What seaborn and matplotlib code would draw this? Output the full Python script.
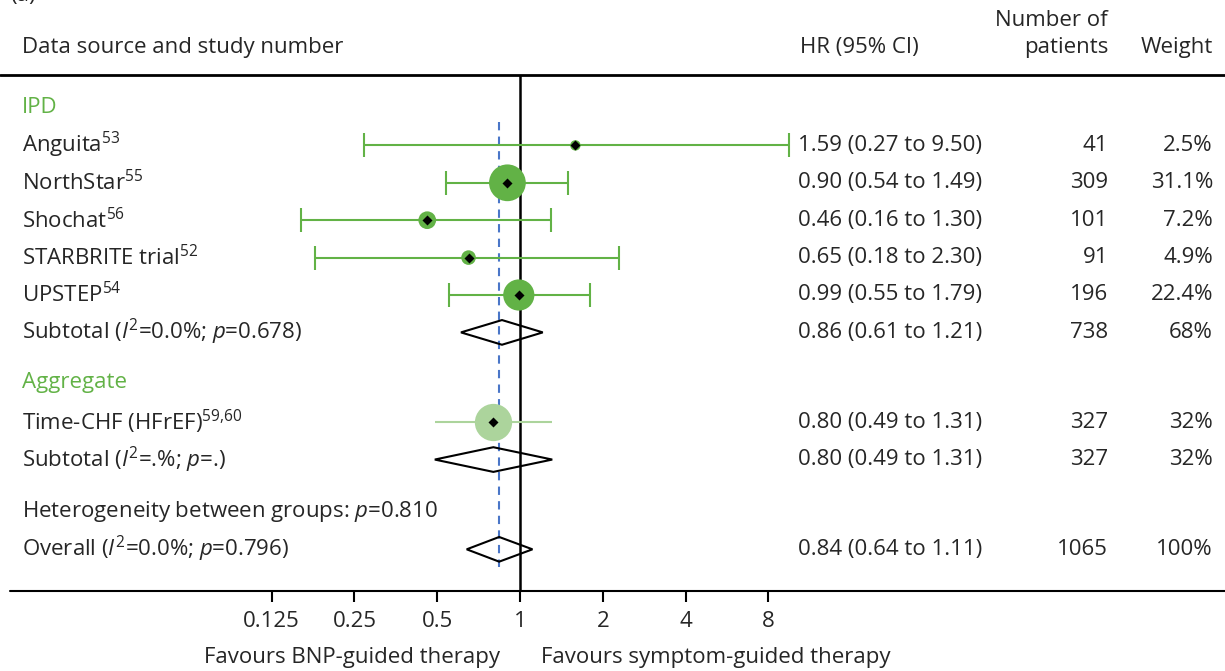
import numpy as np
import pandas as pd
import matplotlib
matplotlib.use("Agg")
import matplotlib.pyplot as plt
import seaborn as sns
from matplotlib.patches import Polygon

# --- data -----------------------------------------------------------------
ipd_names = ["Anguita", "NorthStar", "Shochat", "STARBRITE trial", "UPSTEP"]
ipd_refs = ["53", "55", "56", "52", "54"]
ipd_hr = [1.59, 0.90, 0.46, 0.65, 0.99]
ipd_lo = [0.27, 0.54, 0.16, 0.18, 0.55]
ipd_hi = [9.50, 1.49, 1.30, 2.30, 1.79]
ipd_n = [41, 309, 101, 91, 196]
ipd_weight = [2.5, 31.1, 7.2, 4.9, 22.4]

agg_names = ["Time-CHF (HFrEF)"]
agg_refs = ["59{,}60"]
agg_hr = [0.80]
agg_lo = [0.49]
agg_hi = [1.31]
agg_n = [327]
agg_weight = [32.0]

# pooled: IPD subtotal, aggregate subtotal, overall
pool_labels = [r"Subtotal ($I^2$=0.0%; $p$=0.678)",
               r"Subtotal ($I^2$=.%; $p$=.)",
               r"Overall ($I^2$=0.0%; $p$=0.796)"]
pool_hr = [0.86, 0.80, 0.84]
pool_lo = [0.61, 0.49, 0.64]
pool_hi = [1.21, 1.31, 1.11]
pool_n = [738, 327, 1065]
pool_weight = ["68%", "32%", "100%"]
het_label = r"Heterogeneity between groups: $p$=0.810"

ticks = [0.125, 0.25, 0.5, 1, 2, 4, 8]
tick_labels = ["0.125", "0.25", "0.5", "1", "2", "4", "8"]

# --- style ----------------------------------------------------------------
sns.set_theme(style="white")
plt.rcParams["font.family"] = ["Open Sans", "DejaVu Sans"]
plt.rcParams["mathtext.fontset"] = "custom"
plt.rcParams["mathtext.rm"] = "Open Sans"
plt.rcParams["mathtext.it"] = "Open Sans:italic"
plt.rcParams["mathtext.bf"] = "Open Sans:bold"

green = "#62b246"
light_green = "#acd49c"
blue = "#4a76c8"
fs = 16

W, H = 1225, 671
fig = plt.figure(figsize=(W / 100, H / 100), dpi=100)
ax = fig.add_axes([0, 0, 1, 1])
ax.set_xscale("log", base=2)
px2 = 82.8          # pixels per doubling
x1 = 520            # pixel of HR = 1
rowh = 37.4         # pixels per row
y0 = 108            # pixel of first row
ax.set_xlim(2 ** (-x1 / px2), 2 ** ((W - x1) / px2))
ax.set_ylim((H - y0) / rowh, -y0 / rowh)
ax.axis("off")
tx = ax.get_yaxis_transform()   # x in axes fraction, y in data


def fx(p):
    return p / W


# row positions
r_ipd_head = 0
r_ipd = np.arange(1, 6)
r_ipd_sub = 6
r_agg_head = 7.35
r_agg = np.array([8.4])
r_agg_sub = 9.4
r_het = 10.8
r_all = 11.8
r_pool = [r_ipd_sub, r_agg_sub, r_all]

# reference lines
ax.plot([0, 1], [-0.88, -0.88], transform=tx, color="black", lw=2)
ax.plot([0.008, 1], [12.91, 12.91], transform=tx, color="black", lw=1.5)
ax.vlines(1, -0.88, 12.91, color="black", lw=1.8, zorder=2)
ax.vlines(pool_hr[2], 0.37, 12.27, color=blue, lw=1.5, ls=(0, (4, 3)), zorder=2)

# CIs
ipd_hr_a = np.array(ipd_hr)
ax.errorbar(ipd_hr, r_ipd,
            xerr=[ipd_hr_a - np.array(ipd_lo), np.array(ipd_hi) - ipd_hr_a],
            fmt="none", ecolor=green, elinewidth=1.5, capsize=8.5, capthick=1.5,
            zorder=3)
ax.hlines(r_agg, agg_lo, agg_hi, color=light_green, lw=1.5, zorder=3)

# weighted circles (area proportional to weight)
smax = 700
df_ipd = pd.DataFrame({"hr": ipd_hr, "row": r_ipd, "w": ipd_weight})
df_agg = pd.DataFrame({"hr": agg_hr, "row": r_agg, "w": agg_weight})
sns.scatterplot(data=df_ipd, x="hr", y="row", size="w", sizes=(0, smax),
                size_norm=(0, 31.1), color=green, linewidth=0, legend=False,
                ax=ax, zorder=4)
sns.scatterplot(data=df_agg, x="hr", y="row", size="w",
                sizes=(0, smax * 32 / 31.1), size_norm=(0, 32),
                color=light_green, linewidth=0, legend=False, ax=ax, zorder=4)
sns.scatterplot(x=ipd_hr + agg_hr, y=list(r_ipd) + list(r_agg), marker="D",
                s=26, color="black", linewidth=0, ax=ax, zorder=5)

# pooled diamonds
dh = 0.33
for est, lo, hi, r in zip(pool_hr, pool_lo, pool_hi, r_pool):
    ax.add_patch(Polygon([(lo, r), (est, r - dh), (hi, r), (est, r + dh)],
                         closed=True, fill=False, edgecolor="black", lw=1.5,
                         zorder=5))

# header
ax.text(fx(10), -2.74, "(a)", transform=tx, fontsize=fs, va="bottom")
ax.text(fx(22), -1.63, "Data source and study number", transform=tx,
        fontsize=fs, va="center")
ax.text(fx(800), -1.63, "HR (95% CI)", transform=tx, fontsize=fs, va="center")
ax.text(fx(1108), -2.35, "Number of", transform=tx, fontsize=fs, va="center",
        ha="right")
ax.text(fx(1108), -1.63, "patients", transform=tx, fontsize=fs, va="center",
        ha="right")
ax.text(fx(1213), -1.63, "Weight", transform=tx, fontsize=fs, va="center",
        ha="right")

# group headers
ax.text(fx(22), r_ipd_head, "IPD", transform=tx, fontsize=fs, va="center",
        color=green)
ax.text(fx(22), r_agg_head, "Aggregate", transform=tx, fontsize=fs,
        va="center", color=green)


def row_text(r, label, hr, lo, hi, n, w):
    ax.text(fx(22), r, label, transform=tx, fontsize=fs, va="center")
    ax.text(fx(798), r, f"{hr:.2f} ({lo:.2f} to {hi:.2f})", transform=tx,
            fontsize=fs, va="center")
    ax.text(fx(1108), r, str(n), transform=tx, fontsize=fs, va="center",
            ha="right")
    ax.text(fx(1213), r, w, transform=tx, fontsize=fs, va="center", ha="right")


for i, r in enumerate(r_ipd):
    row_text(r, f"{ipd_names[i]}$^{{{ipd_refs[i]}}}$", ipd_hr[i], ipd_lo[i],
             ipd_hi[i], ipd_n[i], f"{ipd_weight[i]:.1f}%")
for i, r in enumerate(r_agg):
    row_text(r, f"{agg_names[i]}$^{{{agg_refs[i]}}}$", agg_hr[i], agg_lo[i],
             agg_hi[i], agg_n[i], f"{agg_weight[i]:.0f}%")
for i, r in enumerate(r_pool):
    row_text(r, pool_labels[i], pool_hr[i], pool_lo[i], pool_hi[i], pool_n[i],
             pool_weight[i])
ax.text(fx(22), r_het, het_label, transform=tx, fontsize=fs, va="center")

# x axis (log2)
ax.vlines(ticks, 12.91, 13.2, color="black", lw=1.5)
for t, lab in zip(ticks, tick_labels):
    ax.text(t, 13.74, lab, fontsize=fs, ha="center", va="center")
ax.text(fx(500), 14.68, "Favours BNP-guided therapy", transform=tx,
        fontsize=fs, ha="right", va="center")
ax.text(fx(541), 14.68, "Favours symptom-guided therapy", transform=tx,
        fontsize=fs, ha="left", va="center")

fig.savefig("out.png", dpi=100)
